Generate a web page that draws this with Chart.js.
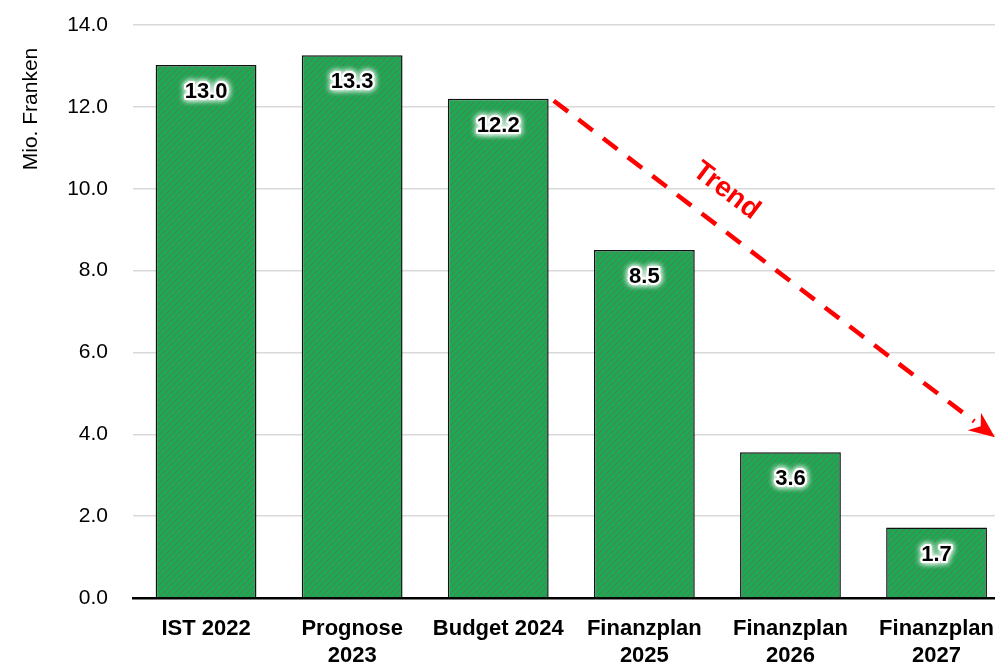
<!DOCTYPE html>
<html>
<head>
<meta charset="utf-8">
<script src="https://cdn.jsdelivr.net/npm/chart.js@4"></script>
<style>
  html, body { margin: 0; padding: 0; background: #fff; overflow: hidden; }
  #wrap { width: 1012px; height: 670px; position: relative; }
</style>
</head>
<body>
<div id="wrap"><canvas id="chart"></canvas></div>
<script>
const kategorien = [["IST 2022"], ["Prognose", "2023"], ["Budget 2024"], ["Finanzplan", "2025"], ["Finanzplan", "2026"], ["Finanzplan", "2027"]];
const werte = [13.02, 13.26, 12.2, 8.5, 3.56, 1.72];
const yTicks = [0, 2, 4, 6, 8, 10, 12, 14];
// Trendpfeil: Start und Ende in Achsenwerten (Kategorie-Index, Mio. Franken)
const trendStart = [2.38, 12.15];
const trendEnde = [5.40, 3.93];
const trendText = "Trend";
const trendTextPos = [3.56, 9.95];

// Schraffiertes Grün
function hatch() {
  const c = document.createElement("canvas");
  c.width = 6; c.height = 6;
  const g = c.getContext("2d");
  g.fillStyle = "#1ea851";
  g.fillRect(0, 0, 6, 6);
  g.strokeStyle = "rgba(95,115,95,0.9)";
  g.lineWidth = 1;
  g.beginPath();
  g.moveTo(-1, 7); g.lineTo(7, -1);
  g.moveTo(-1, 1); g.lineTo(1, -1);
  g.moveTo(5, 7); g.lineTo(7, 5);
  g.stroke();
  return g.createPattern(c, "repeat");
}

const wertLabels = {
  id: "wertLabels",
  afterDatasetsDraw(chart) {
    const ctx = chart.ctx;
    const meta = chart.getDatasetMeta(0);
    ctx.save();
    ctx.font = "bold 22px 'Liberation Sans', Arial, sans-serif";
    ctx.textAlign = "center";
    ctx.textBaseline = "middle";
    meta.data.forEach((bar, i) => {
      const txt = werte[i].toFixed(1);
      const y = bar.y + 27;
      ctx.shadowColor = "#fff";
      ctx.shadowBlur = 6;
      ctx.strokeStyle = "#fff";
      ctx.lineWidth = 4;
      ctx.lineJoin = "round";
      ctx.strokeText(txt, bar.x, y);
      ctx.strokeText(txt, bar.x, y);
      ctx.shadowBlur = 0;
      ctx.fillStyle = "#000";
      ctx.fillText(txt, bar.x, y);
    });
    ctx.restore();
  }
};

const trendPfeil = {
  id: "trendPfeil",
  afterDraw(chart) {
    const { ctx, scales: { x, y } } = chart;
    const x1 = x.getPixelForValue(trendStart[0]), y1 = y.getPixelForValue(trendStart[1]);
    const x2 = x.getPixelForValue(trendEnde[0]), y2 = y.getPixelForValue(trendEnde[1]);
    const ang = Math.atan2(y2 - y1, x2 - x1);
    const headLen = 26, headW = 11;
    const bx = x2 - headLen * Math.cos(ang), by = y2 - headLen * Math.sin(ang);
    ctx.save();
    ctx.strokeStyle = "#ff0000";
    ctx.fillStyle = "#ff0000";
    ctx.lineWidth = 4.5;
    ctx.setLineDash([18, 13]);
    ctx.beginPath();
    ctx.moveTo(x1, y1);
    ctx.lineTo(bx, by);
    ctx.stroke();
    ctx.setLineDash([]);
    ctx.beginPath();
    ctx.moveTo(x2, y2);
    ctx.lineTo(bx - headW * Math.sin(ang), by + headW * Math.cos(ang));
    ctx.lineTo(bx + 8 * Math.cos(ang), by + 8 * Math.sin(ang));
    ctx.lineTo(bx + headW * Math.sin(ang), by - headW * Math.cos(ang));
    ctx.closePath();
    ctx.fill();
    // Beschriftung
    const tx = x.getPixelForValue(trendTextPos[0]), ty = y.getPixelForValue(trendTextPos[1]);
    ctx.translate(tx, ty);
    ctx.rotate(ang);
    ctx.font = "bold 28px 'Liberation Sans', Arial, sans-serif";
    ctx.textAlign = "center";
    ctx.textBaseline = "middle";
    ctx.fillText(trendText, 0, 0);
    ctx.restore();
  }
};

const achsenTitel = {
  id: "achsenTitel",
  afterDraw(chart) {
    const ctx = chart.ctx;
    ctx.save();
    ctx.translate(31, 109);
    ctx.rotate(-Math.PI / 2);
    ctx.font = "21px 'Liberation Sans', Arial, sans-serif";
    ctx.fillStyle = "#000";
    ctx.textAlign = "center";
    ctx.textBaseline = "middle";
    ctx.fillText("Mio. Franken", 0, 0);
    ctx.restore();
  }
};

new Chart(document.getElementById("chart"), {
  type: "bar",
  data: {
    labels: kategorien,
    datasets: [{
      data: werte,
      backgroundColor: hatch(),
      borderColor: "#111",
      borderWidth: 1.5,
      borderSkipped: "bottom",
      categoryPercentage: 1,
      barPercentage: 0.69
    }]
  },
  options: {
    responsive: true,
    maintainAspectRatio: false,
    animation: false,
    layout: { padding: { top: 25, right: 0, left: 0, bottom: 0 } },
    plugins: { legend: { display: false }, tooltip: { enabled: false } },
    scales: {
      x: {
        grid: { display: false, drawTicks: false },
        border: { display: true, color: "#000", width: 2.5 },
        ticks: {
          color: "#000",
          padding: 18,
          maxRotation: 0,
          font: { family: "'Liberation Sans', Arial, sans-serif", size: 22, weight: "bold", lineHeight: 1.22 }
        },
        afterFit(s) { s.height = 72; }
      },
      y: {
        min: 0, max: 14,
        afterBuildTicks(s) { s.ticks = yTicks.map(v => ({ value: v })); },
        grid: { color: "#d9d9d9", lineWidth: 1.5, drawTicks: false },
        border: { display: false },
        ticks: {
          color: "#000",
          padding: 25,
          font: { family: "'Liberation Sans', Arial, sans-serif", size: 21 },
          callback: v => v.toFixed(1)
        },
        afterFit(s) { s.width = 133; s.paddingTop = 12; s.paddingBottom = 12; }
      }
    }
  },
  plugins: [wertLabels, trendPfeil, achsenTitel]
});
</script>
</body>
</html>
